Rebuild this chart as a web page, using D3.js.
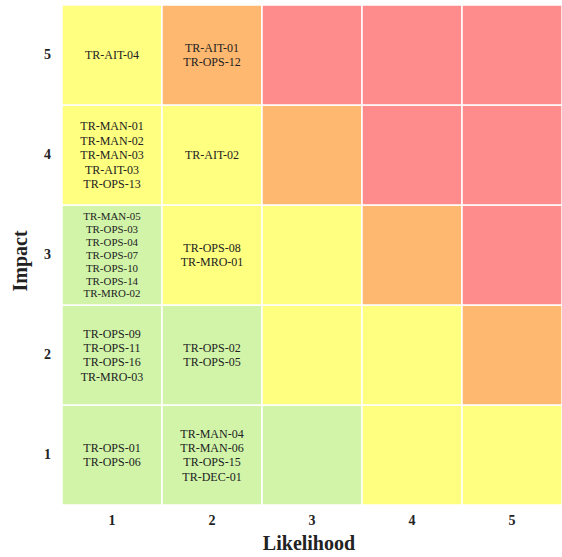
<!DOCTYPE html>
<html>
<head>
<meta charset="utf-8">
<script src="https://cdn.jsdelivr.net/npm/d3@7"></script>
<style>
  html, body { margin: 0; padding: 0; background: #fff; }
  svg text { font-family: "Liberation Serif", "Times New Roman", serif; }
</style>
</head>
<body>
<svg id="chart" width="562" height="557"></svg>
<script>
// Risk matrix: likelihood (x) by impact (y)
const likelihoodLevels = [1, 2, 3, 4, 5];
const impactLevels = [1, 2, 3, 4, 5];

// Risks placed in each cell
const cellRisks = [
  { likelihood: 1, impact: 5, risks: ["TR-AIT-04"] },
  { likelihood: 2, impact: 5, risks: ["TR-AIT-01", "TR-OPS-12"] },
  { likelihood: 1, impact: 4, risks: ["TR-MAN-01", "TR-MAN-02", "TR-MAN-03", "TR-AIT-03", "TR-OPS-13"] },
  { likelihood: 2, impact: 4, risks: ["TR-AIT-02"] },
  { likelihood: 1, impact: 3, risks: ["TR-MAN-05", "TR-OPS-03", "TR-OPS-04", "TR-OPS-07", "TR-OPS-10", "TR-OPS-14", "TR-MRO-02"] },
  { likelihood: 2, impact: 3, risks: ["TR-OPS-08", "TR-MRO-01"] },
  { likelihood: 1, impact: 2, risks: ["TR-OPS-09", "TR-OPS-11", "TR-OPS-16", "TR-MRO-03"] },
  { likelihood: 2, impact: 2, risks: ["TR-OPS-02", "TR-OPS-05"] },
  { likelihood: 1, impact: 1, risks: ["TR-OPS-01", "TR-OPS-06"] },
  { likelihood: 2, impact: 1, risks: ["TR-MAN-04", "TR-MAN-06", "TR-OPS-15", "TR-DEC-01"] }
];

// Rating bands by (likelihood + impact) and their fills
const bandLimits = [4, 6, 7];
const bandColors = ["#d1f4a9", "#ffff80", "#ffb870", "#ff8c8c"];

const margin = { top: 5, right: 0, bottom: 52, left: 62 };
const width = 562 - margin.left - margin.right;
const gridH = 500;

const svg = d3.select("#chart");
const g = svg.append("g").attr("transform", `translate(${margin.left},${margin.top})`);

const x = d3.scaleBand().domain(likelihoodLevels).range([0, width]);
const y = d3.scaleBand().domain(impactLevels.slice().reverse()).range([0, gridH]);
const color = d3.scaleThreshold().domain(bandLimits.map(v => v + 0.5)).range(bandColors);

const cells = [];
impactLevels.forEach(i => likelihoodLevels.forEach(l => {
  const entry = cellRisks.find(c => c.likelihood === l && c.impact === i);
  cells.push({ likelihood: l, impact: i, risks: entry ? entry.risks : [] });
}));

const cell = g.selectAll("g.cell").data(cells).join("g")
  .attr("class", "cell")
  .attr("transform", d => `translate(${x(d.likelihood)},${y(d.impact)})`);

cell.append("rect")
  .attr("width", x.bandwidth())
  .attr("height", y.bandwidth())
  .attr("fill", d => color(d.likelihood + d.impact))
  .attr("stroke", "#ffffff")
  .attr("stroke-width", 1.5);

cell.each(function(d) {
  const n = d.risks.length;
  if (!n) return;
  const lh = Math.min(14.4, (y.bandwidth() - 10) / n);
  const fs = Math.min(12, lh * 0.85);
  const cx = x.bandwidth() / 2, cy = y.bandwidth() / 2;
  d3.select(this).selectAll("text").data(d.risks).join("text")
    .attr("x", cx)
    .attr("y", (r, k) => cy + (k - (n - 1) / 2) * lh)
    .attr("dy", "0.35em")
    .attr("text-anchor", "middle")
    .attr("font-size", fs)
    .attr("fill", "#222")
    .text(r => r);
});

// Axes
const xAxis = g.append("g").attr("transform", `translate(0,${gridH})`)
  .call(d3.axisBottom(x).tickSize(0).tickPadding(10));
xAxis.select(".domain").remove();
xAxis.selectAll("text").attr("font-size", 14).attr("font-weight", "bold")
  .attr("font-family", "Liberation Serif, serif").attr("fill", "#222");

const yAxis = g.append("g")
  .call(d3.axisLeft(y).tickSize(0).tickPadding(11));
yAxis.select(".domain").remove();
yAxis.selectAll("text").attr("font-size", 14).attr("font-weight", "bold")
  .attr("font-family", "Liberation Serif, serif").attr("fill", "#222");

g.append("text")
  .attr("x", width / 2 - 3)
  .attr("y", 545)
  .attr("text-anchor", "middle")
  .attr("font-size", 20)
  .attr("font-weight", "bold")
  .attr("fill", "#222")
  .text("Likelihood");

g.append("text")
  .attr("transform", `translate(${-42},${256}) rotate(-90)`)
  .attr("text-anchor", "middle")
  .attr("dy", "0.35em")
  .attr("font-size", 20)
  .attr("font-weight", "bold")
  .attr("fill", "#222")
  .text("Impact");
</script>
</body>
</html>
